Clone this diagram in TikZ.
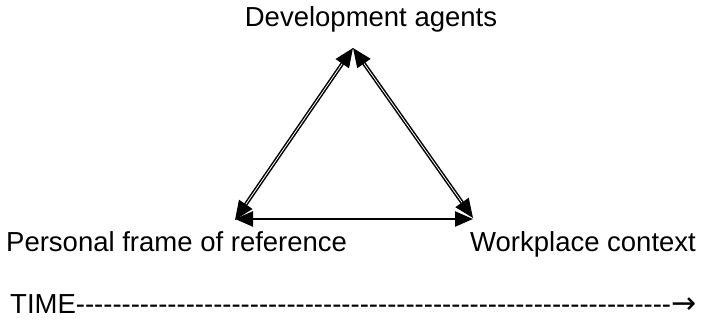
\documentclass[tikz,border=0pt]{standalone}
\usepackage{fontspec}
\setmainfont{Liberation Sans}
\newfontfamily\djv{DejaVu Sans}
\usetikzlibrary{arrows.meta}
\newcommand\hyrun[1]{\foreach \i in {1,...,#1}{\mbox{-}}}
\begin{document}
\begin{tikzpicture}[x=1pt,y=1pt,
  lbl/.style={inner sep=0pt, font=\fontsize{27.5}{33}\selectfont},
  slant/.style={{Triangle[length=19pt,width=16pt]}-{Triangle[length=19pt,width=16pt]}, double, double distance=0.8pt, line width=1.5pt},
  flat/.style={{Triangle[length=18pt,width=15pt]}-{Triangle[length=18pt,width=15pt]}, line width=2.4pt}]
\useasboundingbox (0,0) rectangle (702,321);
\node[lbl, anchor=base] (dev) at (371,294) {Development agents};
\node[lbl, anchor=base west] (pers) at (6,69) {Personal frame of reference};
\node[lbl, anchor=base west] (work) at (470,69) {Workplace context};
\node[lbl, anchor=base west] (time) at (10,7) {TIME\hyrun{65}{\djv\fontsize{30}{33}\selectfont →}};
\coordinate (A) at (353,273);
\coordinate (BL) at (235,101);
\coordinate (BR) at (473,103);
\coordinate (HL) at (235,102);
\coordinate (HR) at (473,102);
\draw[slant] (A) -- (BL);
\draw[slant] (A) -- (BR);
\draw[flat] (HL) -- (HR);
\end{tikzpicture}
\end{document}
